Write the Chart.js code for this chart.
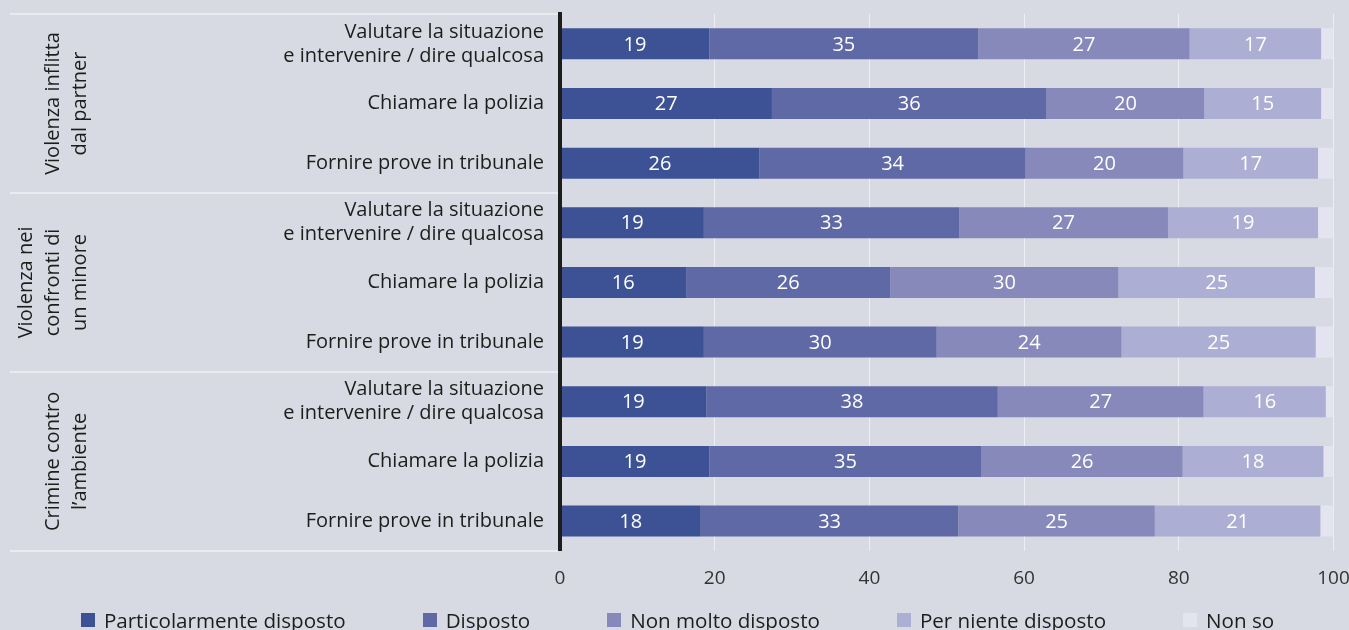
<!DOCTYPE html>
<html lang="it">
<head>
<meta charset="utf-8">
<script src="https://cdn.jsdelivr.net/npm/chart.js@4.4.1/dist/chart.umd.min.js"></script>
<style>
  html, body { margin: 0; padding: 0; background: #d7dae3; overflow: hidden; }
  #wrap { position: relative; width: 1349px; height: 630px; }
  #legend {
    position: absolute; left: 0; top: 608px; width: 1349px; height: 24px;
    display: flex; justify-content: center; align-items: center; gap: 77px;
    padding-left: 6px; box-sizing: border-box;
    font-family: 'Open Sans'; font-size: 20.6px; color: #1d1d1b; white-space: nowrap;
  }
  #legend .item { display: flex; align-items: center; line-height: 24px; }
  #legend .box { display: inline-block; width: 14px; height: 14px; margin-right: 9px; }
</style>
</head>
<body>
<div id="wrap">
  <canvas id="chart"></canvas>
  <div id="legend"></div>
</div>
<script>
// categorie (asse Y) e gruppi
const categories = [
  ['Valutare la situazione', 'e intervenire / dire qualcosa'],
  'Chiamare la polizia',
  'Fornire prove in tribunale',
  ['Valutare la situazione', 'e intervenire / dire qualcosa'],
  'Chiamare la polizia',
  'Fornire prove in tribunale',
  ['Valutare la situazione', 'e intervenire / dire qualcosa'],
  'Chiamare la polizia',
  'Fornire prove in tribunale'
];
const groups = [
  ['Violenza inflitta', 'dal partner'],
  ['Violenza nei', 'confronti di', 'un minore'],
  ['Crimine contro', 'l’ambiente']
];
const groupSize = 3;

// serie (%)
const seriesNames = ['Particolarmente disposto', 'Disposto', 'Non molto disposto', 'Per niente disposto', 'Non so'];
const particolarmente = [19.3, 27.4, 25.8, 18.6, 16.3, 18.6, 18.9, 19.3, 18.2];
const disposto        = [34.8, 35.5, 34.4, 33.0, 26.4, 30.1, 37.7, 35.2, 33.3];
const nonMolto        = [27.3, 20.4, 20.4, 27.0, 29.5, 23.9, 26.6, 26.0, 25.4];
const perNiente       = [17.0, 15.1, 17.4, 19.4, 25.4, 25.1, 15.8, 18.2, 21.4];
const nonSo           = [1.6, 1.6, 2.0, 2.0, 2.4, 2.3, 1.0, 1.3, 1.7];
const xTicks = [0, 20, 40, 60, 80, 100];

const colors = ['#3d5294', '#5f69a6', '#8689ba', '#adaed3', '#e4e4f1'];
const font = 'Open Sans';

const allSeries = [particolarmente, disposto, nonMolto, perNiente, nonSo];

// sfondo
const bgPlugin = {
  id: 'bg',
  beforeDraw(chart) {
    const ctx = chart.ctx;
    ctx.save();
    ctx.fillStyle = '#d7dae3';
    ctx.fillRect(0, 0, chart.width, chart.height);
    ctx.restore();
  }
};

// linee di separazione tra i gruppi + etichette ruotate
const groupPlugin = {
  id: 'groups',
  beforeDatasetsDraw(chart) {
    const ctx = chart.ctx, y = chart.scales.y, area = chart.chartArea;
    const ys = [area.top];
    for (let g = 1; g < groups.length; g++) {
      const i = g * groupSize;
      ys.push((y.getPixelForValue(i - 1) + y.getPixelForValue(i)) / 2);
    }
    ys.push(area.bottom);
    ctx.save();
    ctx.strokeStyle = '#eef0f4';
    ctx.lineWidth = 1.5;
    ys.forEach(py => {
      ctx.beginPath();
      ctx.moveTo(10, py);
      ctx.lineTo(area.left - 2, py);
      ctx.stroke();
    });
    ctx.restore();
  },
  afterDraw(chart) {
    const ctx = chart.ctx, y = chart.scales.y;
    ctx.save();
    ctx.fillStyle = '#1d1d1b';
    ctx.font = '20px "' + font + '"';
    ctx.textAlign = 'center';
    ctx.textBaseline = 'middle';
    groups.forEach((lines, g) => {
      const cy = y.getPixelForValue(g * groupSize + 1);
      ctx.save();
      ctx.translate(80, cy);
      ctx.rotate(-Math.PI / 2);
      lines.forEach((t, i) => ctx.fillText(t, 0, (i - (lines.length - 1)) * 27));
      ctx.restore();
    });
    ctx.restore();
  }
};

// valori dentro le barre
const valuePlugin = {
  id: 'values',
  afterDatasetsDraw(chart) {
    const ctx = chart.ctx;
    ctx.save();
    ctx.fillStyle = '#ffffff';
    ctx.font = '20px "' + font + '"';
    ctx.textAlign = 'center';
    ctx.textBaseline = 'middle';
    chart.data.datasets.forEach((ds, d) => {
      if (d > 3) return;
      chart.getDatasetMeta(d).data.forEach((bar, i) => {
        ctx.fillText(String(Math.round(ds.data[i])), (bar.x + bar.base) / 2, bar.y + 1);
      });
    });
    ctx.restore();
  }
};

const chart = new Chart(document.getElementById('chart'), {
  type: 'bar',
  data: {
    labels: categories,
    datasets: seriesNames.map((name, k) => ({
      label: name,
      data: allSeries[k],
      backgroundColor: colors[k],
      borderWidth: 0,
      barPercentage: 0.52,
      categoryPercentage: 1
    }))
  },
  options: {
    indexAxis: 'y',
    responsive: true,
    maintainAspectRatio: false,
    animation: false,
    layout: { padding: { top: 14, right: 15.5, bottom: 23.3, left: 0 } },
    plugins: {
      legend: { display: false },
      tooltip: { enabled: false }
    },
    scales: {
      x: {
        stacked: true,
        min: 0,
        max: 100,
        grid: { color: '#eceef3', lineWidth: 1, drawTicks: false },
        border: { display: false },
        ticks: {
          color: '#333333',
          font: { family: font, size: 19 },
          padding: 16.5,
          maxRotation: 0
        },
        afterBuildTicks(s) { s.ticks = xTicks.map(v => ({ value: v })); },
        afterFit(s) { s.paddingLeft = 0; s.paddingRight = 0; }
      },
      y: {
        stacked: true,
        grid: { display: false, drawTicks: false },
        border: { display: true, width: 4, color: '#1d1d1b', z: 1 },
        ticks: {
          color: '#1d1d1b',
          font: { family: font, size: 20, lineHeight: 1.2 },
          padding: 16,
          autoSkip: false
        },
        afterFit(s) { s.width = 560; s.paddingTop = 0; s.paddingBottom = 0; }
      }
    }
  },
  plugins: [bgPlugin, groupPlugin, valuePlugin]
});

// legenda (HTML, stessi colori e nomi delle serie)
const legendEl = document.getElementById('legend');
seriesNames.forEach((name, k) => {
  const item = document.createElement('div');
  item.className = 'item';
  const box = document.createElement('span');
  box.className = 'box';
  box.style.background = colors[k];
  item.appendChild(box);
  item.appendChild(document.createTextNode(name));
  legendEl.appendChild(item);
});
</script>
</body>
</html>
